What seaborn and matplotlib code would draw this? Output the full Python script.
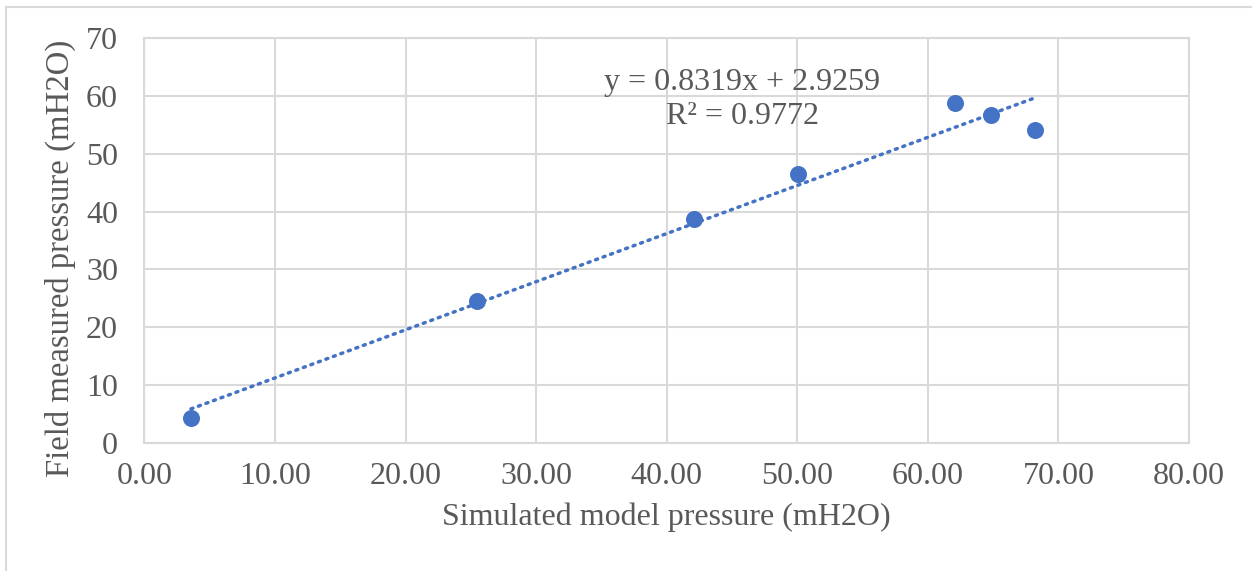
import matplotlib
matplotlib.use("Agg")
import matplotlib.pyplot as plt
import numpy as np
import pandas as pd
import seaborn as sns
from matplotlib.patches import Rectangle
from matplotlib.ticker import FormatStrFormatter, MultipleLocator

# data
simulated = [3.56, 25.46, 42.1, 50.05, 62.1, 64.8, 68.2]
measured = [4.33, 24.56, 38.67, 46.48, 58.8, 56.7, 54.1]
eq_text = "y = 0.8319x + 2.9259"
r2_text = "R² = 0.9772"
x_label = "Simulated model pressure (mH2O)"
y_label = "Field measured pressure (mH2O)"

df = pd.DataFrame({"sim": simulated, "meas": measured})

blue = "#4472C4"
grey_txt = "#595959"
grid_col = "#D9D9D9"

sns.set_theme(style="white")
plt.rcParams["font.family"] = ["Liberation Serif", "DejaVu Serif"]

fig = plt.figure(figsize=(12.52, 5.71), dpi=100)
ax = fig.add_axes([0.1154, 0.2247, 0.9497 - 0.1154, 0.9329 - 0.2247])

# trendline (linear fit) first, points on top
sns.regplot(data=df, x="sim", y="meas", ax=ax, ci=None, scatter=False,
            line_kws=dict(color=blue, linewidth=2.5, linestyle=(0, (0.6, 1.7)),
                          dash_capstyle="round", zorder=3))
sns.scatterplot(data=df, x="sim", y="meas", ax=ax, color=blue, s=150,
                edgecolor=blue, linewidth=0, zorder=4)

ax.set_xlim(0, 80)
ax.set_ylim(0, 70)
ax.xaxis.set_major_locator(MultipleLocator(10))
ax.yaxis.set_major_locator(MultipleLocator(10))
ax.xaxis.set_major_formatter(FormatStrFormatter("%.2f"))
ax.grid(True, color=grid_col, linewidth=1.5)
ax.set_axisbelow(True)
for sp in ax.spines.values():
    sp.set_color(grid_col)
    sp.set_linewidth(1.5)

ax.tick_params(axis="both", length=0, labelsize=23, labelcolor=grey_txt)
ax.tick_params(axis="y", pad=19)
ax.tick_params(axis="x", pad=14)
ax.set_xlabel(x_label, fontsize=23, color=grey_txt, labelpad=8)
ax.set_ylabel(y_label, fontsize=23.6, color=grey_txt)
ax.yaxis.set_label_coords(-0.066, 0.457)

ax.text(45.8, 62.4, eq_text, fontsize=23, color=grey_txt, ha="center", va="center")
ax.text(45.8, 56.5, r2_text, fontsize=23, color=grey_txt, ha="center", va="center")

# outer chart border
fig.patches.append(Rectangle((6 / 1252, -0.5), 2, 0.5 + 1 - 7 / 571,
                             transform=fig.transFigure, fill=False,
                             edgecolor=grid_col, linewidth=1.5))

fig.savefig("out.png", dpi=100)
